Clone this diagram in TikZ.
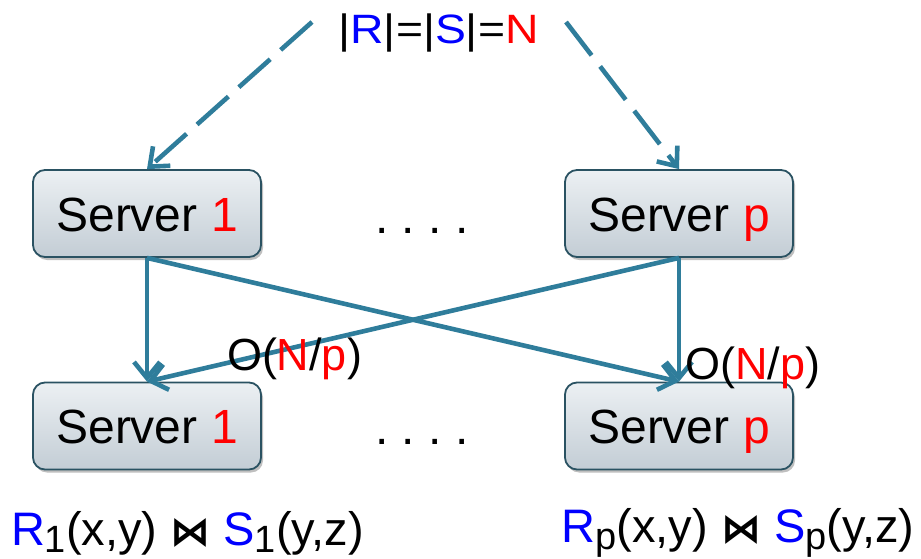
\documentclass[tikz,border=0pt]{standalone}
\usepackage{fontspec}
\setmainfont{Liberation Sans}
\newfontfamily\symfont{DejaVu Sans}
\usetikzlibrary{arrows.meta,shadows}
\definecolor{arrowblue}{RGB}{47,125,155}
\definecolor{boxborder}{RGB}{42,82,98}
\definecolor{boxtop}{RGB}{236,240,243}
\definecolor{boxbot}{RGB}{195,205,213}
\definecolor{txtred}{RGB}{255,0,0}
\definecolor{txtblue}{RGB}{0,0,255}
\newcommand\lowsub[1]{\raisebox{-7pt}{\fontsize{38}{38}\selectfont #1}}
\newcommand\bowt{{\symfont\bfseries\fontsize{40}{40}\selectfont ⋈}}
\begin{document}
\begin{tikzpicture}[x=1pt,y=-1pt,
  serverbox/.style={rounded corners=12pt, draw=boxborder, line width=1.8pt,
    top color=boxtop, bottom color=boxbot, minimum width=228pt, minimum height=87pt,
    font=\fontsize{48}{48}\selectfont, text height=35pt, text depth=0pt, inner sep=0pt,
    drop shadow={shadow xshift=2pt, shadow yshift=-3pt, opacity=0.25, fill=black}},
  conn/.style={draw=arrowblue, line width=4.6pt, -{Straight Barb[length=16pt,width=26pt]}},
  dconn/.style={conn, dash pattern=on 42pt off 14pt},
  lbl/.style={inner sep=0pt, anchor=base}
]
\useasboundingbox (0,0) rectangle (921,559);

\node[lbl, font=\fontsize{41}{41}\selectfont] (top) at (438.5,44)
  {\scalebox{1.13}[1]{|\textcolor{txtblue}{R}|=|\textcolor{txtblue}{S}|=\textcolor{txtred}{N}}};
\coordinate (dl) at (312,22);
\coordinate (dr) at (566,22);

\node[serverbox] (s1) at (147,213.5) {Server \textcolor{txtred}{1}};
\node[serverbox] (sp) at (679,213.5) {Server \textcolor{txtred}{p}};
\node[serverbox] (b1) at (147,426) {Server \textcolor{txtred}{1}};
\node[serverbox] (bp) at (679,426) {Server \textcolor{txtred}{p}};

\node[lbl, font=\fontsize{48}{48}\selectfont] (dots1) at (422,233) {\frenchspacing . . . .};
\node[lbl, font=\fontsize{48}{48}\selectfont] (dots2) at (422,444) {\frenchspacing . . . .};

\draw[dconn] (dl) -- (s1.north);
\draw[dconn] (dr) -- (sp.north);

\draw[conn] (s1.south) -- (b1.north);
\draw[conn] (s1.south) -- (bp.north);
\draw[conn] (sp.south) -- (b1.north);
\draw[conn] (sp.south) -- (bp.north);

\node[lbl, font=\fontsize{45}{45}\selectfont] (o1) at (294.5,370)
  {O(\textcolor{txtred}{N}/\textcolor{txtred}{p})};
\node[lbl, font=\fontsize{45}{45}\selectfont] (o2) at (753,379)
  {O(\textcolor{txtred}{N}/\textcolor{txtred}{p})};

\node[lbl, font=\fontsize{47}{47}\selectfont] (j1) at (187.5,545)
  {\textcolor{txtblue}{R}\lowsub{1}(x,y) \bowt\ \textcolor{txtblue}{S}\lowsub{1}(y,z)};
\node[lbl, font=\fontsize{47}{47}\selectfont] (jp) at (738,542)
  {\textcolor{txtblue}{R}\lowsub{p}(x,y) \bowt\ \textcolor{txtblue}{S}\lowsub{p}(y,z)};
\end{tikzpicture}
\end{document}
